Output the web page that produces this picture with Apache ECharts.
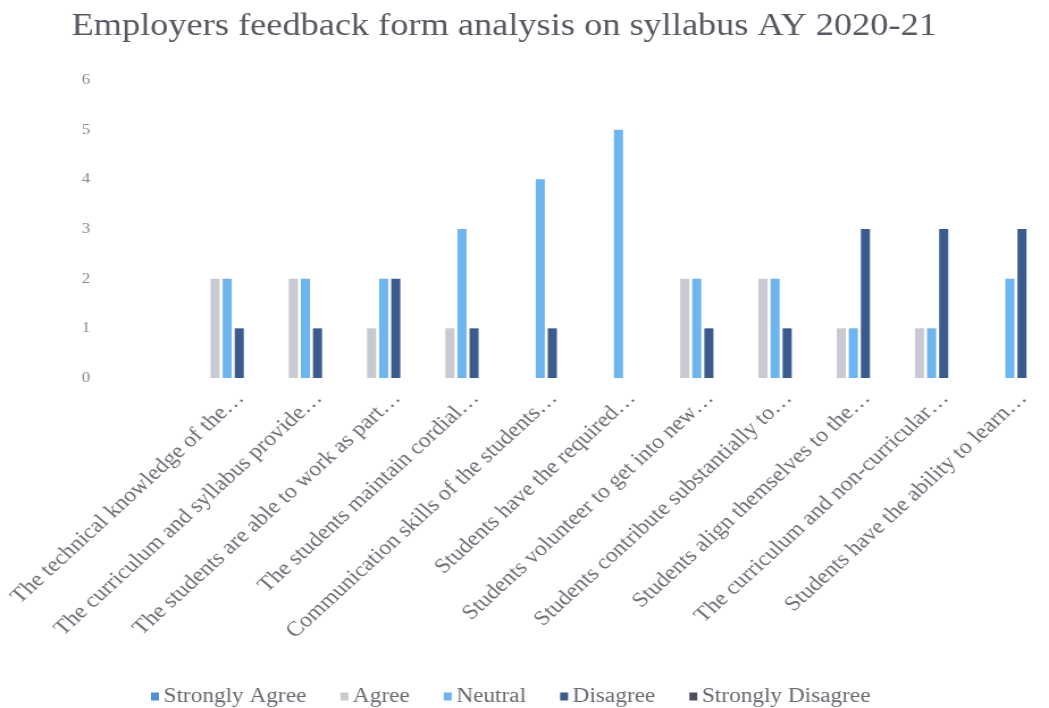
<!DOCTYPE html>
<html>
<head>
<meta charset="utf-8">
<script src="https://cdn.jsdelivr.net/npm/echarts@6/dist/echarts.min.js"></script>
<style>
  html, body { margin: 0; padding: 0; background: #fff; overflow: hidden; }
  /* the chart is laid out 924px wide and widened to fill the 1049px page */
  #chart { width: 924px; height: 708px; transform: scaleX(1.1353); transform-origin: 0 0; }
</style>
</head>
<body>
<div id="chart"></div>
<script>
// Survey statements (shortened as shown on the axis)
const categories = [
  'The technical knowledge of the…',
  'The curriculum and syllabus provide…',
  'The students are able to work as part…',
  'The students maintain cordial…',
  'Communication skills of the students…',
  'Students have the required…',
  'Students volunteer to get into new…',
  'Students contribute substantially to…',
  'Students align themselves to the…',
  'The curriculum and non-curricular…',
  'Students have the ability to learn…'
];

// Response counts per statement
const stronglyAgree    = [0, 0, 0, 0, 0, 0, 0, 0, 0, 0, 0];
const agree            = [2, 2, 1, 1, 0, 0, 2, 2, 1, 1, 0];
const neutral          = [2, 2, 2, 3, 4, 5, 2, 2, 1, 1, 2];
const disagree         = [1, 1, 2, 1, 1, 0, 1, 1, 3, 3, 3];
const stronglyDisagree = [0, 0, 0, 0, 0, 0, 0, 0, 0, 0, 0];

// Y axis ticks
const yTicks = [0, 1, 2, 3, 4, 5, 6];

const seriesNames = ['Strongly Agree', 'Agree', 'Neutral', 'Disagree', 'Strongly Disagree'];
const seriesData = [stronglyAgree, agree, neutral, disagree, stronglyDisagree];
const seriesColors = ['#4f8fd6', '#c9c9d1', '#6db5ee', '#3b5b8f', '#4b4d5c'];

const serif = '"Liberation Serif", "DejaVu Serif", serif';

const chart = echarts.init(document.getElementById('chart'));
chart.setOption({
  backgroundColor: '#ffffff',
  animation: false,
  title: {
    text: 'Employers feedback form analysis on syllabus AY 2020-21',
    left: 58,
    top: 6,
    textStyle: { fontFamily: serif, fontSize: 32, fontWeight: 'normal', color: '#585862' }
  },
  legend: {
    data: seriesNames,
    left: 128,
    top: 681,
    itemWidth: 7,
    itemHeight: 8,
    itemGap: 30,
    icon: 'rect',
    textStyle: { fontFamily: serif, fontSize: 20.5, color: '#6a6a72', padding: [0, 0, 0, -1] }
  },
  grid: { left: 165.6, right: -17, top: 80, bottom: 330 },
  xAxis: {
    type: 'category',
    data: categories,
    axisLine: { show: false },
    axisTick: { show: false },
    axisLabel: {
      interval: 0,
      rotate: 46,
      margin: 14,
      verticalAlign: 'top',
      padding: [0, -6, 0, 0],
      fontFamily: serif,
      fontSize: 21,
      color: '#707078'
    }
  },
  yAxis: {
    type: 'value',
    min: yTicks[0],
    max: yTicks[yTicks.length - 1],
    interval: 1,
    axisLine: { show: false },
    axisTick: { show: false },
    splitLine: { show: false },
    axisLabel: { fontFamily: serif, fontSize: 15, color: '#8a8a90', margin: 86 }
  },
  series: seriesNames.map((name, i) => ({
    name: name,
    type: 'bar',
    data: seriesData[i],
    barWidth: 8,
    barGap: '33%',
    itemStyle: { color: seriesColors[i] }
  }))
});
</script>
</body>
</html>
